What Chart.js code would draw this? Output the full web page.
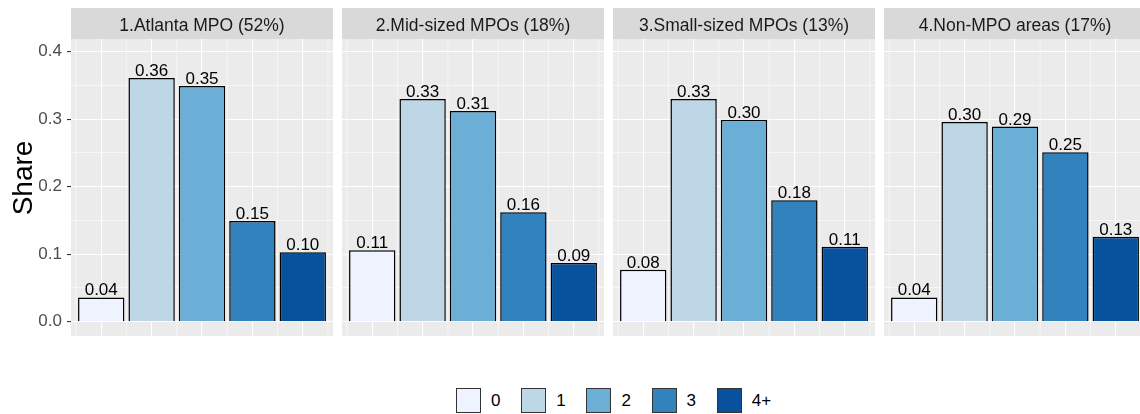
<!DOCTYPE html>
<html>
<head>
<meta charset="utf-8">
<script src="https://cdn.jsdelivr.net/npm/chart.js@4/dist/chart.umd.min.js"></script>
<style>
    html, body { margin: 0; padding: 0; background: #fff; overflow: hidden; }
    #wrap { position: relative; width: 1140px; height: 414px; }
    #wrap canvas { position: absolute; top: 0; }
    .key { position: absolute; top: 388px; height: 25px; display: flex; align-items: center;
           font: 17px 'Liberation Sans', Arial, sans-serif; color: #000; }
    .key .box { width: 25px; height: 25px; box-sizing: border-box; border: 1px solid #333; margin-right: 10px; }
</style>
</head>
<body>
<div id="wrap"></div>
<script>
// data
const regions = ['1.Atlanta MPO (52%)', '2.Mid-sized MPOs (18%)', '3.Small-sized MPOs (13%)', '4.Non-MPO areas (17%)'];
const categories = ['0', '1', '2', '3', '4+'];
const atlanta = [0.036, 0.361, 0.349, 0.149, 0.103];
const midSized = [0.106, 0.330, 0.312, 0.162, 0.087];
const smallSized = [0.077, 0.330, 0.299, 0.180, 0.111];
const nonMpo = [0.036, 0.296, 0.289, 0.251, 0.126];
const majorTicks = [0, 0.1, 0.2, 0.3, 0.4];
const minorTicks = [0.05, 0.15, 0.25, 0.35];

const regionValues = [atlanta, midSized, smallSized, nonMpo];
const blues = ['#EFF3FF', '#BDD7E7', '#6BAED6', '#3182BD', '#08519C'];

const FONT = "'Liberation Sans', Arial, sans-serif";
const stripTop = 8, panelTop = 39, canvasH = 340, panelBottom = 336;
const axisW = 71, panelW = 262, panelStep = 271;

// panel background, strip, minor x grid, y title and bar labels
const panelDecor = {
    id: 'panelDecor',
    beforeDraw(chart, args, opts) {
        const {ctx, chartArea: a} = chart;
        ctx.save();
        ctx.fillStyle = '#EBEBEB';
        ctx.fillRect(a.left, a.top, a.right - a.left, a.bottom - a.top);
        ctx.fillStyle = '#D9D9D9';
        ctx.fillRect(a.left, stripTop, a.right - a.left, a.top - stripTop);
        ctx.fillStyle = '#1A1A1A';
        ctx.font = '17.5px ' + FONT;
        ctx.textAlign = 'center';
        ctx.textBaseline = 'alphabetic';
        ctx.fillText(opts.strip, (a.left + a.right) / 2, 31);
        if (opts.yTitle) {
            ctx.fillStyle = '#000';
            ctx.font = '28px ' + FONT;
            ctx.translate(32, 178);
            ctx.rotate(-Math.PI / 2);
            ctx.fillText(opts.yTitle, 0, 0);
        }
        ctx.restore();
    },
    beforeDatasetsDraw(chart) {
        const {ctx, chartArea: a} = chart;
        const xs = chart.scales.x;
        ctx.save();
        ctx.strokeStyle = '#FFFFFF';
        ctx.lineWidth = 0.55;
        for (let i = 0; i <= categories.length; i++) {
            const px = xs.getPixelForValue(i - 0.5);
            ctx.beginPath();
            ctx.moveTo(px, a.top);
            ctx.lineTo(px, a.bottom);
            ctx.stroke();
        }
        ctx.restore();
    },
    afterDatasetsDraw(chart) {
        const {ctx} = chart;
        const meta = chart.getDatasetMeta(0);
        const values = chart.data.datasets[0].data;
        ctx.save();
        ctx.fillStyle = '#000';
        ctx.font = '17px ' + FONT;
        ctx.textAlign = 'center';
        ctx.textBaseline = 'alphabetic';
        meta.data.forEach((bar, i) => {
            ctx.fillText(values[i].y.toFixed(2), bar.x, bar.y - 2);
        });
        ctx.restore();
    }
};

const yGrid = majorTicks.concat(minorTicks).sort((a, b) => a - b);
const isMajor = v => majorTicks.some(m => Math.abs(m - v) < 1e-9);
const tickVal = c => (c && c.tick) ? c.tick.value : 0;

const wrap = document.getElementById('wrap');

regions.forEach((region, p) => {
    const first = p === 0;
    const canvas = document.createElement('canvas');
    canvas.width = first ? axisW + panelW : panelW;
    canvas.height = canvasH;
    canvas.style.left = (first ? 0 : axisW + p * panelStep) + 'px';
    wrap.appendChild(canvas);

    new Chart(canvas, {
        type: 'bar',
        data: {
            datasets: [{
                data: regionValues[p].map((v, i) => ({x: i, y: v})),
                backgroundColor: blues,
                borderColor: '#000000',
                borderWidth: 1.5,
                categoryPercentage: 1,
                barPercentage: 0.92
            }]
        },
        options: {
            responsive: false,
            animation: false,
            devicePixelRatio: 1,
            layout: {padding: {top: panelTop, bottom: canvasH - panelBottom, left: 0, right: 0}},
            plugins: {
                legend: {display: false},
                tooltip: {enabled: false},
                panelDecor: {strip: region, yTitle: first ? 'Share' : null}
            },
            scales: {
                x: {
                    type: 'linear',
                    offset: false,
                    min: -0.6,
                    max: categories.length - 0.4,
                    afterBuildTicks: s => { s.ticks = categories.map((c, i) => ({value: i})); },
                    afterFit: s => { s.height = 0; s.paddingLeft = 0; s.paddingRight = 0; },
                    ticks: {display: false},
                    border: {display: false},
                    grid: {offset: false, drawTicks: false, color: '#FFFFFF', lineWidth: 1.1}
                },
                y: {
                    min: -0.0212,
                    max: 0.4188,
                    afterBuildTicks: s => { s.ticks = yGrid.map(v => ({value: v})); },
                    afterFit: s => { s.width = first ? axisW : 0; s.paddingTop = 0; s.paddingBottom = 0; },
                    border: {display: false},
                    ticks: {
                        display: first,
                        autoSkip: false,
                        padding: 5,
                        color: '#4D4D4D',
                        font: {family: FONT, size: 17},
                        callback: v => isMajor(v) ? v.toFixed(1) : ''
                    },
                    grid: {
                        drawTicks: first,
                        tickLength: 4,
                        tickWidth: 1.1,
                        tickColor: c => isMajor(tickVal(c)) ? '#333333' : 'rgba(0,0,0,0)',
                        color: '#FFFFFF',
                        lineWidth: c => isMajor(tickVal(c)) ? 1.1 : 0.55
                    }
                }
            }
        },
        plugins: [panelDecor]
    });
});

// legend along the bottom
categories.forEach((c, i) => {
    const key = document.createElement('div');
    key.className = 'key';
    key.style.left = (456 + i * 65.2) + 'px';
    key.innerHTML = `<span class="box" style="background:${blues[i]}"></span><span>${c}</span>`;
    wrap.appendChild(key);
});
</script>
</body>
</html>
